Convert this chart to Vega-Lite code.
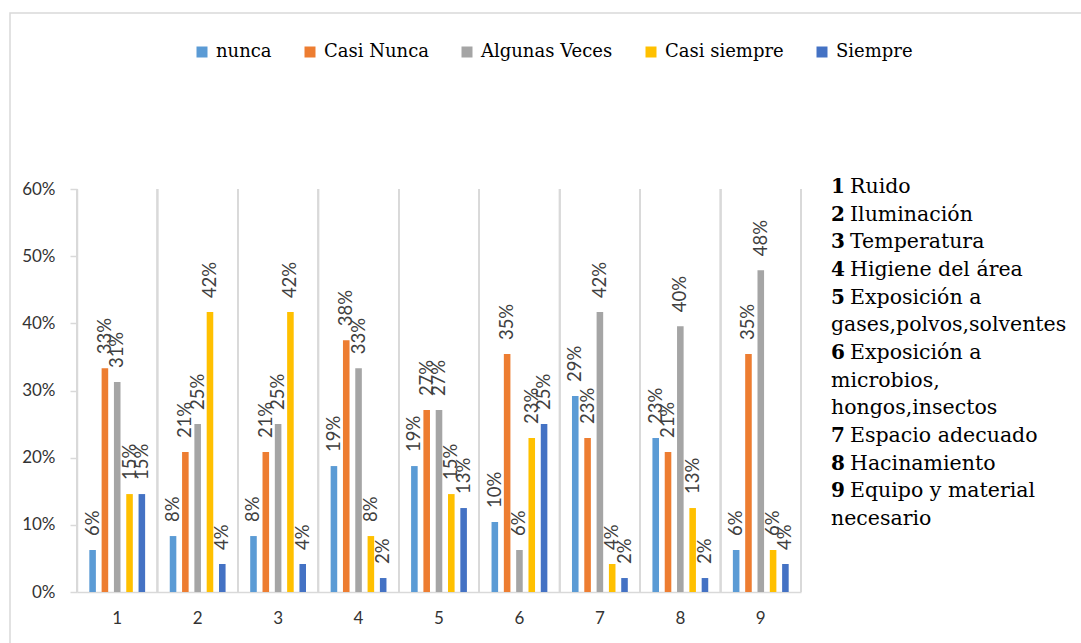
{
  "$schema": "https://vega.github.io/schema/vega-lite/v6.json",
  "width": 1076,
  "height": 635,
  "autosize": {"type": "none"},
  "padding": {"left": 10, "top": 13, "right": 0, "bottom": 0},
  "background": "white",
  "config": {
    "view": {"stroke": "#d9d9d9", "strokeWidth": 1.5},
    "axis": {
      "labelFont": "Lato",
      "labelFontSize": 17,
      "labelColor": "#333333",
      "domain": true,
      "domainColor": "#d9d9d9",
      "domainWidth": 1.5,
      "ticks": true,
      "tickColor": "#d9d9d9",
      "tickWidth": 1.5,
      "title": null
    }
  },
  "layer": [
    {
      "data": {
        "values": [
          {"item": "1", "freq": "nunca", "pct": 0.0625},
          {"item": "1", "freq": "Casi Nunca", "pct": 0.3333},
          {"item": "1", "freq": "Algunas Veces", "pct": 0.3125},
          {"item": "1", "freq": "Casi siempre", "pct": 0.1458},
          {"item": "1", "freq": "Siempre", "pct": 0.1458},
          {"item": "2", "freq": "nunca", "pct": 0.0833},
          {"item": "2", "freq": "Casi Nunca", "pct": 0.2083},
          {"item": "2", "freq": "Algunas Veces", "pct": 0.25},
          {"item": "2", "freq": "Casi siempre", "pct": 0.4167},
          {"item": "2", "freq": "Siempre", "pct": 0.0417},
          {"item": "3", "freq": "nunca", "pct": 0.0833},
          {"item": "3", "freq": "Casi Nunca", "pct": 0.2083},
          {"item": "3", "freq": "Algunas Veces", "pct": 0.25},
          {"item": "3", "freq": "Casi siempre", "pct": 0.4167},
          {"item": "3", "freq": "Siempre", "pct": 0.0417},
          {"item": "4", "freq": "nunca", "pct": 0.1875},
          {"item": "4", "freq": "Casi Nunca", "pct": 0.375},
          {"item": "4", "freq": "Algunas Veces", "pct": 0.3333},
          {"item": "4", "freq": "Casi siempre", "pct": 0.0833},
          {"item": "4", "freq": "Siempre", "pct": 0.0208},
          {"item": "5", "freq": "nunca", "pct": 0.1875},
          {"item": "5", "freq": "Casi Nunca", "pct": 0.2708},
          {"item": "5", "freq": "Algunas Veces", "pct": 0.2708},
          {"item": "5", "freq": "Casi siempre", "pct": 0.1458},
          {"item": "5", "freq": "Siempre", "pct": 0.125},
          {"item": "6", "freq": "nunca", "pct": 0.1042},
          {"item": "6", "freq": "Casi Nunca", "pct": 0.3542},
          {"item": "6", "freq": "Algunas Veces", "pct": 0.0625},
          {"item": "6", "freq": "Casi siempre", "pct": 0.2292},
          {"item": "6", "freq": "Siempre", "pct": 0.25},
          {"item": "7", "freq": "nunca", "pct": 0.2917},
          {"item": "7", "freq": "Casi Nunca", "pct": 0.2292},
          {"item": "7", "freq": "Algunas Veces", "pct": 0.4167},
          {"item": "7", "freq": "Casi siempre", "pct": 0.0417},
          {"item": "7", "freq": "Siempre", "pct": 0.0208},
          {"item": "8", "freq": "nunca", "pct": 0.2292},
          {"item": "8", "freq": "Casi Nunca", "pct": 0.2083},
          {"item": "8", "freq": "Algunas Veces", "pct": 0.3958},
          {"item": "8", "freq": "Casi siempre", "pct": 0.125},
          {"item": "8", "freq": "Siempre", "pct": 0.0208},
          {"item": "9", "freq": "nunca", "pct": 0.0625},
          {"item": "9", "freq": "Casi Nunca", "pct": 0.3542},
          {"item": "9", "freq": "Algunas Veces", "pct": 0.4792},
          {"item": "9", "freq": "Casi siempre", "pct": 0.0625},
          {"item": "9", "freq": "Siempre", "pct": 0.0417}
        ]
      },
      "layer": [
        {
          "mark": {"type": "rule", "color": "#d9d9d9", "strokeWidth": 1.5},
          "encoding": {
            "x": {
              "field": "item",
              "type": "ordinal",
              "bandPosition": 0,
              "scale": {"range": [67, 791], "paddingInner": 0, "paddingOuter": 0},
              "axis": {
                "offset": -56,
                "labelAngle": 0,
                "ticks": false,
                "grid": false,
                "labelPadding": 18
              }
            },
            "y": {
              "datum": 0,
              "type": "quantitative",
              "scale": {"domain": [0, 0.6], "range": [579, 176], "nice": false},
              "axis": {
                "offset": -67,
                "values": [0, 0.1, 0.2, 0.3, 0.4, 0.5, 0.6],
                "format": ".0%",
                "grid": false,
                "tickSize": 7,
                "labelPadding": 15
              }
            },
            "y2": {"datum": 0.6}
          }
        },
        {
          "transform": [{"filter": "datum.item === '9'"}],
          "mark": {"type": "rule", "color": "#d9d9d9", "strokeWidth": 1.5},
          "encoding": {
            "x": {"field": "item", "type": "ordinal", "bandPosition": 1},
            "y": {"datum": 0, "type": "quantitative"},
            "y2": {"datum": 0.6}
          }
        },
        {
          "mark": {"type": "bar"},
          "encoding": {
            "x": {"field": "item", "type": "ordinal"},
            "y": {"field": "pct", "type": "quantitative"},
            "xOffset": {
              "field": "freq",
              "type": "nominal",
              "sort": ["nunca", "Casi Nunca", "Algunas Veces", "Casi siempre", "Siempre"],
              "scale": {"paddingInner": 0.466, "paddingOuter": 1.14}
            },
            "color": {
              "field": "freq",
              "type": "nominal",
              "sort": ["nunca", "Casi Nunca", "Algunas Veces", "Casi siempre", "Siempre"],
              "scale": {
                "domain": ["nunca", "Casi Nunca", "Algunas Veces", "Casi siempre", "Siempre"],
                "range": ["#5B9BD5", "#ED7D31", "#A5A5A5", "#FFC000", "#4472C4"]
              },
              "legend": {
                "orient": "none",
                "legendX": 183,
                "legendY": 30,
                "direction": "horizontal",
                "title": null,
                "symbolType": "square",
                "symbolSize": 121,
                "symbolStrokeWidth": 0,
                "labelFont": "DejaVu Serif",
                "labelFontSize": 18,
                "labelColor": "#000000",
                "labelOffset": 5,
                "columnPadding": 29
              }
            }
          }
        },
        {
          "mark": {
            "type": "text",
            "angle": 270,
            "align": "left",
            "baseline": "middle",
            "dx": 14,
            "font": "Lato",
            "fontSize": 18.5,
            "color": "#404040"
          },
          "encoding": {
            "x": {"field": "item", "type": "ordinal"},
            "y": {"field": "pct", "type": "quantitative"},
            "xOffset": {
              "field": "freq",
              "type": "nominal",
              "sort": ["nunca", "Casi Nunca", "Algunas Veces", "Casi siempre", "Siempre"]
            },
            "text": {"field": "pct", "type": "quantitative", "format": ".0%"}
          }
        }
      ]
    },
    {
      "data": {
        "values": [
          {"line": 1, "num": "1", "label": "Ruido"},
          {"line": 2, "num": "2", "label": "Iluminación"},
          {"line": 3, "num": "3", "label": "Temperatura"},
          {"line": 4, "num": "4", "label": "Higiene del área"},
          {"line": 5, "num": "5", "label": "Exposición a"},
          {"line": 6, "num": "", "label": "gases,polvos,solventes"},
          {"line": 7, "num": "6", "label": " Exposición a"},
          {"line": 8, "num": "", "label": "microbios,"},
          {"line": 9, "num": "", "label": "hongos,insectos"},
          {"line": 10, "num": "7", "label": "Espacio adecuado"},
          {"line": 11, "num": "8", "label": "Hacinamiento"},
          {"line": 12, "num": "9", "label": "Equipo y material"},
          {"line": 13, "num": "", "label": "necesario"}
        ]
      },
      "encoding": {
        "x": {
          "datum": 0,
          "type": "quantitative",
          "scale": {"domain": [0, 1], "range": [821, 1000], "zero": false, "nice": false},
          "axis": null
        },
        "y": {
          "field": "line",
          "type": "quantitative",
          "scale": {"domain": [1, 13], "range": [174, 506], "zero": false, "nice": false},
          "axis": null
        }
      },
      "layer": [
        {
          "transform": [{"filter": "datum.num !== ''"}],
          "mark": {
            "type": "text",
            "align": "left",
            "baseline": "middle",
            "font": "DejaVu Serif",
            "fontSize": 20,
            "fontWeight": "bold",
            "color": "#000000"
          },
          "encoding": {"text": {"field": "num"}}
        },
        {
          "transform": [{"filter": "datum.num !== ''"}],
          "mark": {
            "type": "text",
            "align": "left",
            "baseline": "middle",
            "dx": 19,
            "font": "DejaVu Serif",
            "fontSize": 20.5,
            "color": "#000000"
          },
          "encoding": {"text": {"field": "label"}}
        },
        {
          "transform": [{"filter": "datum.num === ''"}],
          "mark": {
            "type": "text",
            "align": "left",
            "baseline": "middle",
            "font": "DejaVu Serif",
            "fontSize": 20.5,
            "color": "#000000"
          },
          "encoding": {"text": {"field": "label"}}
        }
      ]
    }
  ],
  "resolve": {"scale": {"x": "independent", "y": "independent"}}
}
